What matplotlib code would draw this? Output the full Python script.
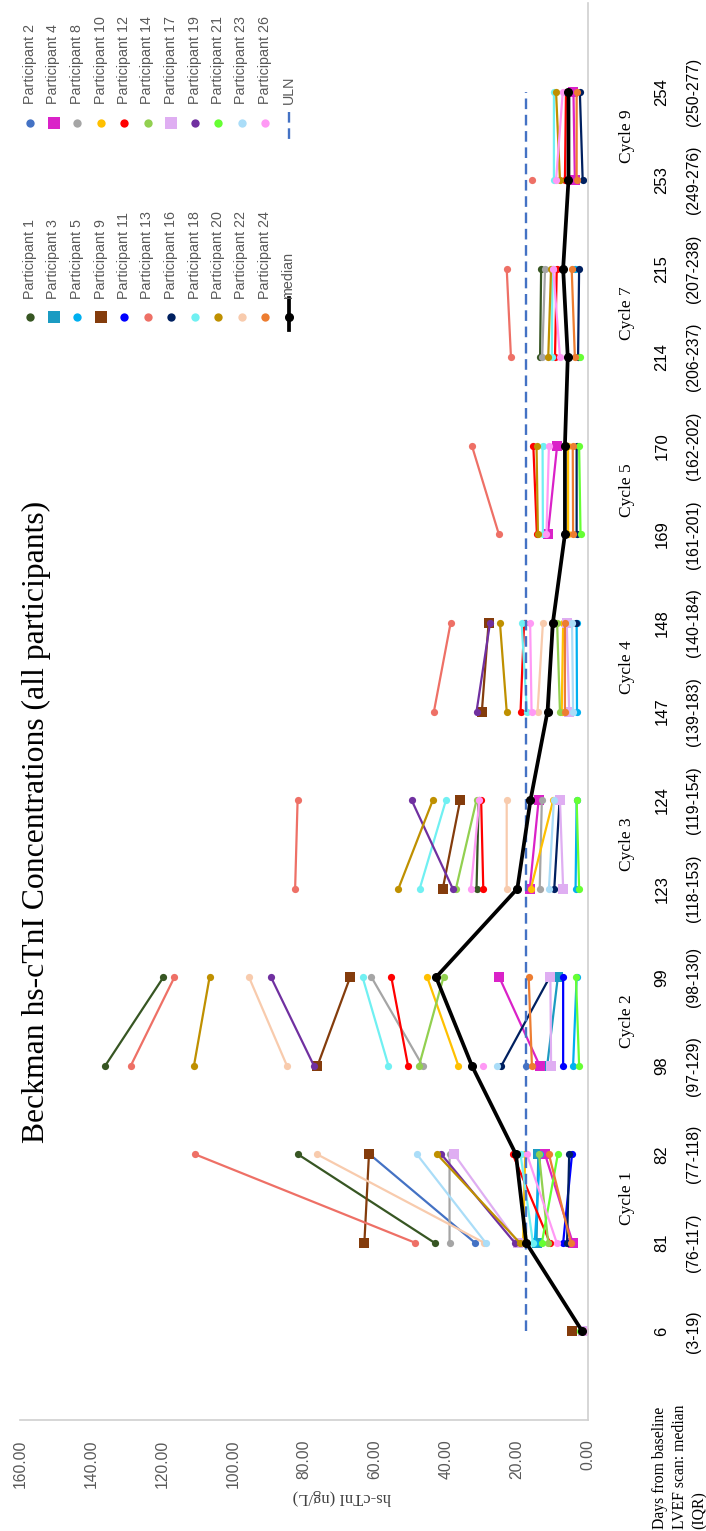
import numpy as np
import matplotlib
matplotlib.use("Agg")
import matplotlib.pyplot as plt
import matplotlib.transforms as mtransforms

N = np.nan

days = ['6', '81', '82', '98', '99', '123', '124', '147', '148', '169', '170', '214', '215', '253', '254']
iqr = ['(3-19)', '(76-117)', '(77-118)', '(97-129)', '(98-130)', '(118-153)', '(119-154)',
       '(139-183)', '(140-184)', '(161-201)', '(162-202)', '(206-237)', '(207-238)',
       '(249-276)', '(250-277)']
cycles = ['Cycle 1', 'Cycle 2', 'Cycle 3', 'Cycle 4', 'Cycle 5', 'Cycle 7', 'Cycle 9']

p1 = [1.5, 43.2, 81.7, 136.0, 119.6, 31.4, 30.8, N, N, N, N, 13.5, 13.2, N, N]
p2 = [1.2, 31.8, 61.5, 17.4, N, N, N, N, N, N, N, N, N, N, N]
p3 = [1.3, 14.5, 14.0, 11.5, 8.5, N, N, N, N, N, N, N, N, N, N]
p4 = [1.4, 4.3, 12.1, 13.6, 25.0, 16.4, 13.9, N, N, 11.3, 8.7, N, N, 3.7, 4.1]
p5 = [1.0, 15.0, 13.5, 4.2, 3.2, 3.5, 3.2, 3.1, 3.2, N, N, N, 3.7, N, N]
p8 = [1.6, 39.0, 39.0, 46.6, 61.0, 13.6, 13.0, 11.0, 10.2, N, N, 12.9, 12.1, N, N]
p9 = [4.6, 63.0, 61.7, 76.2, 67.0, 40.9, 36.0, 29.9, 28.0, N, N, N, N, N, N]
p10 = [1.3, 18.3, 17.7, 36.5, 45.3, 16.1, 9.8, 7.4, 7.0, 5.6, 5.6, N, N, N, N]
p11 = [1.1, 7.0, 4.5, 7.0, 7.0, N, N, N, N, N, N, N, N, N, N]
p12 = [1.5, 10.7, 21.2, 50.7, 55.4, 29.5, 30.1, 19.0, 18.0, 14.4, 15.4, 9.3, 8.8, 6.5, 6.2]
p13 = [0.6, 48.6, 110.7, 128.8, 116.5, 82.5, 81.8, 43.4, 38.7, 25.1, 32.7, 21.7, 22.9, 15.9, N]
p14 = [1.8, 11.2, 13.8, 47.6, 40.7, 37.2, 31.4, 7.9, 8.7, N, N, N, N, N, N]
p16 = [1.2, 5.9, 5.3, 24.4, 10.8, 9.5, 8.0, N, 3.4, 3.2, 3.2, 2.8, 2.5, 1.5, 2.3]
p17 = [1.4, 19.7, 37.7, 10.4, 10.6, 7.0, 7.9, 5.3, 6.0, N, N, N, N, N, N]
p18 = [1.5, 15.5, 19.0, 56.2, 63.5, 47.4, 40.0, 17.2, 18.7, 12.7, 12.8, 10.2, 10.0, 9.6, 9.6]
p19 = [1.6, 20.6, 41.3, 77.2, 89.3, 38.1, 49.7, 31.4, 27.6, N, N, N, N, N, N]
p20 = [1.7, 19.2, 42.5, 111.0, 106.6, 53.4, 43.7, 22.9, 24.8, 14.1, 14.5, 11.2, 10.4, 7.9, 9.0]
p21 = [2.3, 13.0, 8.5, 2.5, 3.4, 2.5, 3.2, N, N, 2.1, 2.5, 2.3, N, N, N]
p22 = [1.4, 29.2, 76.3, 84.8, 95.5, 22.9, 22.9, 14.2, 12.7, N, N, N, N, N, N]
p23 = [1.3, 28.8, 48.2, 25.6, N, 11.0, 9.6, 4.2, 4.5, N, N, N, N, N, N]
p24 = [1.0, 4.8, 11.0, 15.8, 16.7, N, N, 6.5, 6.5, 4.2, 4.3, 3.7, 4.6, 3.2, 3.2]
p26 = [0.8, 8.8, 17.2, 29.5, N, 33.0, 30.6, 15.9, 16.3, 11.7, 11.0, 7.9, 9.8, 9.0, 7.1]

median = [1.6, 17.4, 20.3, 32.7, 42.8, 19.9, 16.2, 11.4, 9.9, 6.5, 6.5, 5.7, 7.0, 5.5, 5.5]
uln = 17.5

names = ['Participant 1', 'Participant 2', 'Participant 3', 'Participant 4', 'Participant 5',
         'Participant 8', 'Participant 9', 'Participant 10', 'Participant 11', 'Participant 12',
         'Participant 13', 'Participant 14', 'Participant 16', 'Participant 17', 'Participant 18',
         'Participant 19', 'Participant 20', 'Participant 21', 'Participant 22', 'Participant 23',
         'Participant 24', 'Participant 26']
series = [p1, p2, p3, p4, p5, p8, p9, p10, p11, p12, p13, p14, p16, p17, p18, p19, p20,
          p21, p22, p23, p24, p26]
colors = ['#375623', '#4472C4', '#1B9BC2', '#DA22C8', '#00B0F0', '#A5A5A5', '#843C0C',
          '#FFC000', '#0000FF', '#FF0000', '#EE7066', '#92D050', '#002060', '#DFAEF2',
          '#70F0F2', '#7030A0', '#BF9000', '#66FF33', '#F8CBAD', '#AADDF8', '#ED7D31', '#FF99F5']
markers = ['o', 'o', 's', 's', 'o', 'o', 's', 'o', 'o', 'o', 'o', 'o', 'o', 's', 'o', 'o',
           'o', 'o', 'o', 'o', 'o', 'o']

W, H = 706, 1531
fig = plt.figure(figsize=(W / 100, H / 100), dpi=100)


def fx(px):
    return px / W


def fy(py):
    return 1 - py / H


ax = fig.add_axes([fx(20), fy(1420), fx(588) - fx(20), fy(3) - fy(1420)])
ax.set_xlim(160, 0)
ax.set_ylim(0, 16)

pos = np.arange(1, len(days) + 1)


def broken(vals):
    # day 6 on its own, then each cycle as a pre/post pair
    xs, ys = [vals[0], N], [pos[0], N]
    for i in range(1, len(vals), 2):
        xs += [vals[i], vals[i + 1], N]
        ys += [pos[i], pos[i + 1], N]
    return xs, ys


for vals, c, m in zip(series, colors, markers):
    xs, ys = broken(vals)
    ax.plot(xs, ys, color=c, lw=1.6, marker=m, ms=7 if m == 's' else 5.2,
            markeredgewidth=0, solid_capstyle='round')

ax.plot([uln] * len(days), pos, color='#4472C4', lw=1.7, linestyle=(0, (4.5, 2.4)))
ax.plot(median, pos, color='black', lw=2.7, marker='o', ms=5.5)

for s in ['top', 'left']:
    ax.spines[s].set_visible(False)
for s in ['right', 'bottom']:
    ax.spines[s].set_color('#D0D0D0')
    ax.spines[s].set_linewidth(1.2)
ax.set_yticks([])
ax.set_xticks(np.arange(0, 161, 20))
ax.set_xticklabels(['%.2f' % v for v in np.arange(0, 161, 20)], rotation=90,
                   fontsize=11.3, color='#595959', family='Liberation Sans')
ax.tick_params(axis='x', length=0, pad=14)

fig.text(fx(342), fy(1497), 'hs-cTnI (ng/L)', rotation=180, ha='center', va='center',
         fontsize=12, family='Liberation Serif', color='#404040')

# category labels, placed on the category positions
tr = mtransforms.blended_transform_factory(fig.transFigure, ax.transData)
for p, d, q in zip(pos, days, iqr):
    fig.text(fx(662), p, d, transform=tr, rotation=90, ha='center', va='center',
             fontsize=12, family='Liberation Sans')
    fig.text(fx(694), p, q, transform=tr, rotation=90, ha='center', va='center',
             fontsize=11.3, family='Liberation Sans')
for k, cy in enumerate(cycles):
    fig.text(fx(627), pos[2 * k + 1] + 0.5, cy, transform=tr, rotation=90, ha='center',
             va='center', fontsize=12.5, family='Liberation Serif')

fig.text(fx(680), fy(1529), 'Days from baseline\nLVEF scan: median\n(IQR)', rotation=90,
         ha='center', va='bottom', multialignment='left', fontsize=11.3,
         family='Liberation Serif', linespacing=1.3)

fig.text(fx(36), fy(822), 'Beckman hs-cTnI Concentrations (all participants)', rotation=90,
         ha='center', va='center', fontsize=22.8, family='Liberation Serif')

# legend, drawn by hand because it is rotated with the chart
lax = fig.add_axes([0, 0, 1, 1])
lax.set_xlim(0, W)
lax.set_ylim(H, 0)
lax.axis('off')
col_a = [0, 2, 4, 6, 8, 10, 12, 14, 16, 18, 20]
col_b = [1, 3, 5, 7, 9, 11, 13, 15, 17, 19, 21]
step = 23.5
for col, my, ty in [(col_a, 317, 299), (col_b, 123, 104)]:
    for k, idx in enumerate(col):
        x = 30 + step * k
        lax.plot([x], [my], marker=markers[idx], color=colors[idx], markeredgewidth=0,
                 ms=8 if markers[idx] == 's' else 6)
        lax.text(x, ty, names[idx], rotation=90, ha='center', va='bottom', fontsize=10.3,
                 color='#595959', family='Liberation Sans')
xl = 30 + step * 11
lax.plot([xl, xl], [298, 330], color='black', lw=2.7)
lax.plot([xl], [317], marker='o', color='black', ms=5.5)
lax.text(xl, 299, 'median', rotation=90, ha='center', va='bottom', fontsize=10.3,
         color='#595959', family='Liberation Sans')
lax.plot([xl, xl], [112, 140], color='#4472C4', lw=1.7, linestyle=(0, (4.5, 2.4)))
lax.text(xl, 104, 'ULN', rotation=90, ha='center', va='bottom', fontsize=10.3,
         color='#595959', family='Liberation Sans')

fig.savefig('out.png', dpi=100)
